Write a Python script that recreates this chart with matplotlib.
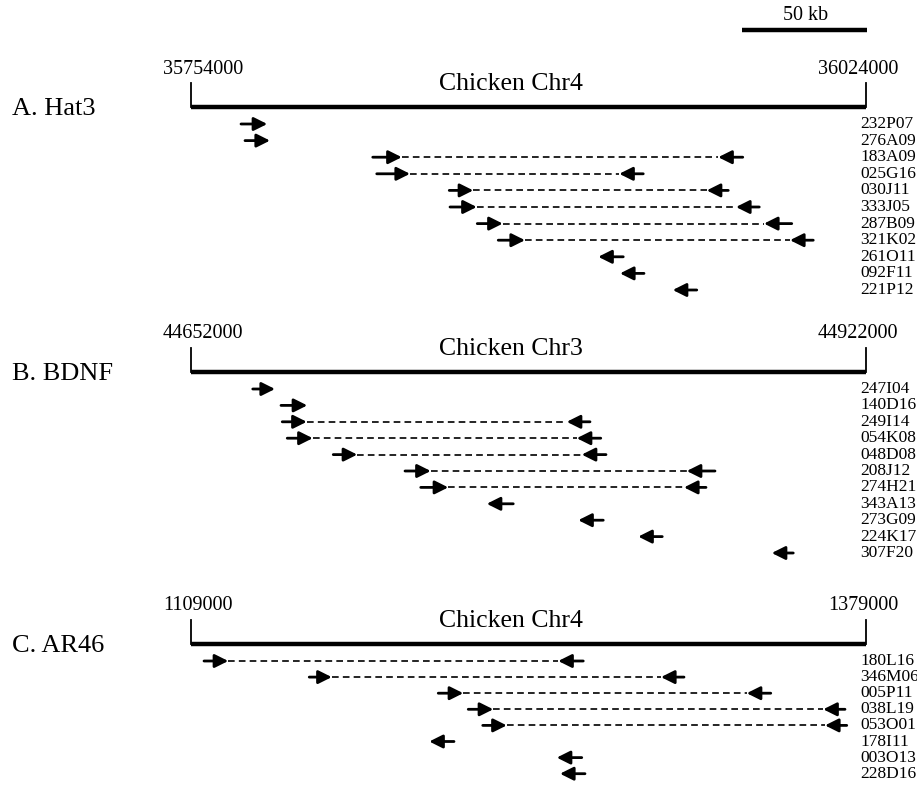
import matplotlib
matplotlib.use("Agg")
import matplotlib.pyplot as plt

plt.rcParams['font.family'] = ['Liberation Serif', 'DejaVu Serif']

# 각 패널 데이터 (위치는 구간 시작점으로부터 kb 단위)
span_kb = 270
scale_kb = 50

a_title = "A. Hat3"
a_chrom = "Chicken Chr4"
a_start = 35754000
a_clones = ["232P07", "276A09", "183A09", "025G16", "030J11", "333J05",
            "287B09", "321K02", "261O11", "092F11", "221P12"]
# forward end: (tail, head)
a_fwd = [(20.0, 30.5), (21.6, 31.6), (72.7, 84.3), (74.3, 87.6), (103.3, 112.9),
         (103.6, 114.3), (114.5, 124.7), (122.9, 133.6), None, None, None]
# reverse end: (head, tail)
a_rev = [None, None, (210.9, 220.7), (171.3, 180.9), (206.3, 214.9),
         (218.0, 227.3), (229.2, 240.3), (239.6, 248.9), (162.9, 172.9),
         (171.6, 181.2), (192.7, 202.3)]

b_title = "B. BDNF"
b_chrom = "Chicken Chr3"
b_start = 44652000
b_clones = ["247I04", "140D16", "249I14", "054K08", "048D08", "208J12",
            "274H21", "343A13", "273G09", "224K17", "307F20"]
b_fwd = [(24.7, 33.6), (36.0, 46.5), (36.5, 46.3), (38.5, 48.7), (56.9, 66.5),
         (85.6, 95.9), (91.9, 102.9), None, None, None, None]
b_rev = [None, None, (150.3, 159.6), (154.3, 163.9), (156.3, 166.0),
         (198.3, 209.6), (197.2, 206.0), (118.3, 128.9), (154.9, 164.9),
         (178.9, 188.5), (232.3, 240.9)]

c_title = "C. AR46"
c_chrom = "Chicken Chr4"
c_start = 1109000
c_clones = ["180L16", "346M06", "005P11", "038L19", "053O01", "178I11",
            "003O13", "228D16"]
c_fwd = [(5.2, 14.9), (47.3, 56.3), (98.9, 108.9), (110.9, 120.9),
         (116.7, 126.3), None, None, None]
c_rev = [(146.9, 156.9), (188.0, 197.2), (222.3, 231.9), (252.9, 261.6),
         (253.6, 262.3), (95.3, 105.2), (146.3, 156.3), (147.6, 157.6)]

panels = [
    (a_title, a_chrom, a_start, a_clones, a_fwd, a_rev, 107, 16.6),
    (b_title, b_chrom, b_start, b_clones, b_fwd, b_rev, 372, 16.4),
    (c_title, c_chrom, c_start, c_clones, c_fwd, c_rev, 644, 16.1),
]

W, H = 917, 786
px_per_kb = 2.5
x0_px = 191

fig = plt.figure(figsize=(W / 100, H / 100), dpi=100)
ax = fig.add_axes([0, 0, 1, 1])
ax.set_xlim(-x0_px / px_per_kb, (W - x0_px) / px_per_kb)
ax.set_ylim(H, 0)
ax.axis("off")


def arrow(x_from, x_to, y):
    ax.annotate("", xy=(x_to, y), xytext=(x_from, y),
                arrowprops=dict(arrowstyle="-|>", lw=2.0, color="black",
                                mutation_scale=20, shrinkA=0, shrinkB=0))


for title, chrom, start, clones, fwd, rev, y_bb, gap in panels:
    # 염색체 구간
    ax.plot([0, span_kb], [y_bb, y_bb], color="black", lw=3.2,
            solid_capstyle="butt")
    for xe in (0, span_kb):
        ax.plot([xe, xe], [y_bb, y_bb - 24], color="black", lw=1.3)
    ax.text(-11.2, y_bb - 38, str(start), ha="left", va="center", fontsize=14.5)
    ax.text(282.8, y_bb - 38, str(start + span_kb * 1000), ha="right",
            va="center", fontsize=14.5)
    ax.text(128, y_bb - 23, chrom, ha="center", va="center", fontsize=18.5)
    ax.text(-71.5, y_bb + 2, title, ha="left", va="center", fontsize=19)

    # 클론 말단 화살표
    for i, name in enumerate(clones):
        y = y_bb + 17 + i * gap
        f = fwd[i]
        r = rev[i]
        if f is not None:
            arrow(f[0], f[1], y)
        if r is not None:
            arrow(r[1], r[0], y)
        if f is not None and r is not None:
            ax.plot([f[1], r[0]], [y, y], color="black", lw=1.2,
                    ls=(0, (4, 2.5)))
        ax.text(267.6, y, name, ha="left", va="center", fontsize=12.5)

# 스케일 바
ax.plot([span_kb - scale_kb + 0.5, span_kb + 0.5], [30, 30], color="black",
        lw=3.2, solid_capstyle="butt")
ax.text(span_kb - scale_kb / 2 + 1, 15, "50 kb", ha="center", va="center",
        fontsize=14.5)

plt.savefig("out.png", dpi=100)
